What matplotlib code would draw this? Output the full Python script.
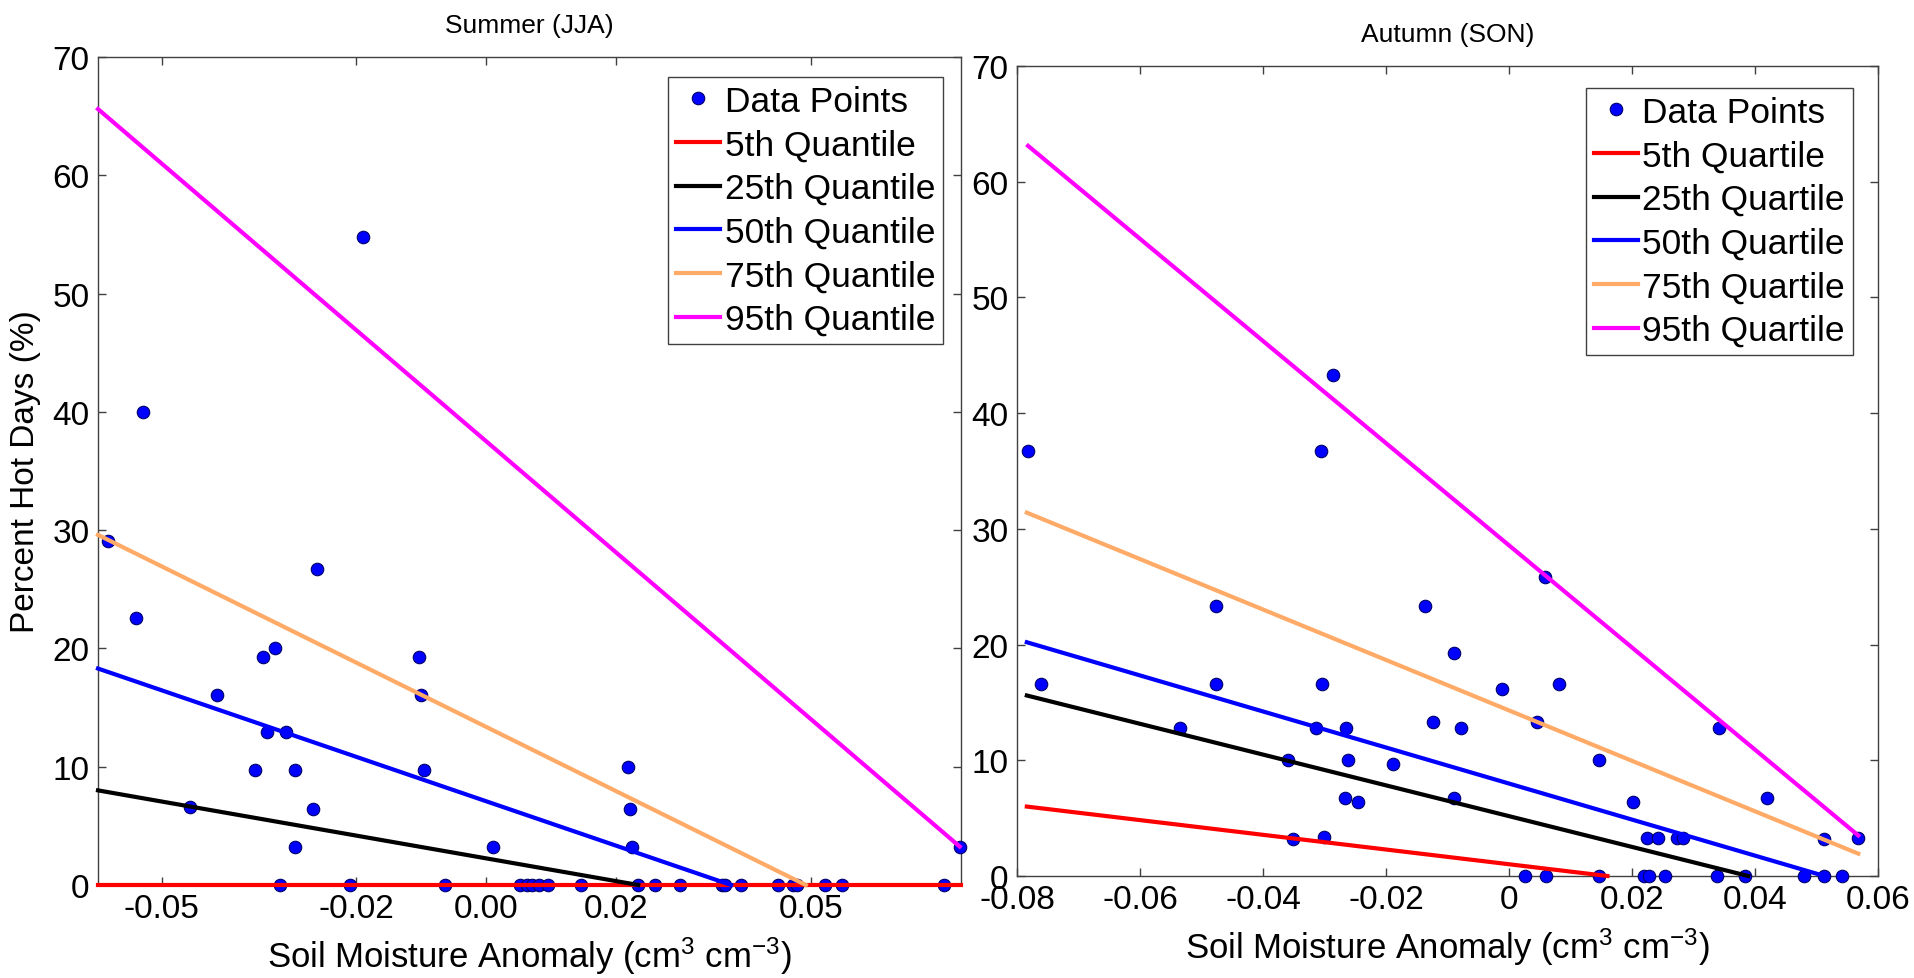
import numpy as np
import matplotlib
matplotlib.use("Agg")
import matplotlib.pyplot as plt

plt.rcParams['font.family'] = ['Liberation Sans', 'DejaVu Sans']
plt.rcParams['mathtext.fontset'] = 'custom'
plt.rcParams['mathtext.rm'] = 'Liberation Sans'
plt.rcParams['mathtext.it'] = 'Liberation Sans'
plt.rcParams['axes.unicode_minus'] = False

# Summer (JJA) data points
summer_x = [-0.0582, -0.0539, -0.0529, -0.0456, -0.0415, -0.0356, -0.0344, -0.0338,
            -0.0326, -0.0318, -0.0309, -0.0294, -0.0294, -0.0267, -0.0260, -0.0210,
            -0.0190, -0.0104, -0.0101, -0.0096, -0.0064, 0.0011, 0.0052, 0.0062,
            0.0071, 0.0081, 0.0095, 0.0146, 0.0218, 0.0221, 0.0224, 0.0234,
            0.0260, 0.0298, 0.0363, 0.0368, 0.0392, 0.0449, 0.0473, 0.0478,
            0.0521, 0.0547, 0.0705, 0.0729]
summer_y = [29.1, 22.6, 40.0, 6.6, 16.1, 9.7, 19.3, 12.9,
            20.0, 0, 12.9, 9.7, 3.2, 6.4, 26.7, 0,
            54.8, 19.3, 16.1, 9.7, 0, 3.2, 0, 0,
            0, 0, 0, 0, 10.0, 6.4, 3.2, 0,
            0, 0, 0, 0, 0, 0, 0, 0,
            0, 0, 0, 3.2]

# Autumn (SON) data points
autumn_x = [-0.0782, -0.0761, -0.0535, -0.0476, -0.0476, -0.0360, -0.0351, -0.0314,
            -0.0305, -0.0304, -0.0301, -0.0286, -0.0267, -0.0265, -0.0262, -0.0245,
            -0.0188, -0.0137, -0.0124, -0.0090, -0.0090, -0.0078, -0.0011, 0.0026,
            0.0046, 0.0059, 0.0060, 0.0081, 0.0147, 0.0147, 0.0202, 0.0220,
            0.0225, 0.0228, 0.0243, 0.0253, 0.0273, 0.0283, 0.0339, 0.0342,
            0.0384, 0.0419, 0.0479, 0.0512, 0.0513, 0.0542, 0.0568]
autumn_y = [36.7, 16.6, 12.8, 23.3, 16.6, 10.0, 3.2, 12.8,
            36.7, 16.6, 3.4, 43.3, 6.7, 12.8, 10.0, 6.4,
            9.7, 23.3, 13.3, 19.3, 6.7, 12.8, 16.2, 0,
            13.3, 25.8, 0, 16.6, 10.0, 0, 6.4, 0,
            3.3, 0, 3.3, 0, 3.3, 3.3, 0, 12.8,
            0, 6.7, 0, 3.2, 0, 0, 3.3]

# quantile regression lines: start/end points
quantiles = ['5th', '25th', '50th', '75th', '95th']
line_colors = ['#FF0000', '#000000', '#0000FF', '#FFAA66', '#FF00FF']

summer_x0 = [-0.0598, -0.0598, -0.0598, -0.0598, -0.0598]
summer_y0 = [0.0, 8.0, 18.3, 29.6, 65.6]
summer_x1 = [0.0731, 0.0234, 0.0377, 0.0492, 0.0729]
summer_y1 = [0.0, 0.0, 0.0, 0.0, 3.25]

autumn_x0 = [-0.0784, -0.0784, -0.0784, -0.0784, -0.0782]
autumn_y0 = [6.0, 15.6, 20.2, 31.4, 63.1]
autumn_x1 = [0.0160, 0.0389, 0.0513, 0.0568, 0.0568]
autumn_y1 = [0.0, 0.0, 0.0, 1.93, 3.5]

summer_ticks = [-0.05, -0.02, 0.0, 0.02, 0.05]
summer_ticklabels = ['-0.05', '-0.02', '0.00', '0.02', '0.05']
autumn_ticks = [-0.08, -0.06, -0.04, -0.02, 0.0, 0.02, 0.04, 0.06]
autumn_ticklabels = ['-0.08', '-0.06', '-0.04', '-0.02', '0', '0.02', '0.04', '0.06']
y_ticks = [0, 10, 20, 30, 40, 50, 60, 70]

FS = 24
fig = plt.figure(figsize=(19.15, 9.79), dpi=100)
ax1 = fig.add_axes([98 / 1915, 1 - 886 / 979, 863 / 1915, 828 / 979])
ax2 = fig.add_axes([1017 / 1915, 1 - 877 / 979, 861 / 1915, 810 / 979])


def draw_panel(ax, xs, ys, x0, y0, x1, y1, kind, title, xlim, ticks, ticklabels, leg_anchor):
    ax.plot(xs, ys, 'o', color='#0000FF', markeredgecolor='#00006a', markeredgewidth=0.8,
            markersize=9, label='Data Points', clip_on=False, zorder=3)
    for i, q in enumerate(quantiles):
        ax.plot([x0[i], x1[i]], [y0[i], y1[i]], color=line_colors[i], lw=3,
                label=q + ' ' + kind, clip_on=False, zorder=4)
    ax.set_xlim(*xlim)
    ax.set_ylim(0, 70)
    ax.set_xticks(ticks)
    ax.set_xticklabels(ticklabels)
    ax.set_yticks(y_ticks)
    ax.tick_params(direction='in', length=6, width=1, color='#404040',
                   top=True, right=True, labelsize=FS, pad=6)
    for s in ax.spines.values():
        s.set_color('#404040')
        s.set_linewidth(1)
    ax.set_title(title, fontsize=19, pad=18)
    ax.set_xlabel(r'Soil Moisture Anomaly (cm$^{3}$ cm$^{-3}$)', fontsize=25, labelpad=7)
    leg = ax.legend(loc='upper right', bbox_to_anchor=leg_anchor, fontsize=25.5,
                    fancybox=False, framealpha=1, edgecolor='#404040',
                    borderpad=0.22, labelspacing=0.3, handlelength=1.25,
                    handletextpad=0.12, borderaxespad=0)
    leg.get_frame().set_linewidth(1)


draw_panel(ax1, summer_x, summer_y, summer_x0, summer_y0, summer_x1, summer_y1,
           'Quantile', 'Summer (JJA)', (-0.0598, 0.0731), summer_ticks, summer_ticklabels,
           (1 - 18 / 863, 1 - 20 / 828))
draw_panel(ax2, autumn_x, autumn_y, autumn_x0, autumn_y0, autumn_x1, autumn_y1,
           'Quartile', 'Autumn (SON)', (-0.08, 0.06), autumn_ticks, autumn_ticklabels,
           (1 - 25 / 861, 1 - 22 / 810))
ax1.set_ylabel('Percent Hot Days (%)', fontsize=FS, labelpad=8)

fig.savefig('out.png', dpi=100)
